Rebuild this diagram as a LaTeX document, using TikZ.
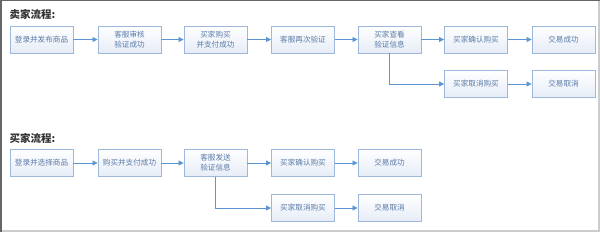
\documentclass[tikz,border=0pt]{standalone}
\usepackage{fontspec}
\newfontfamily\cjk{Noto Sans CJK SC}
\usetikzlibrary{arrows.meta}
\definecolor{boxline}{HTML}{9DB8DA}
\definecolor{boxfill}{HTML}{E6ECF7}
\definecolor{boxtext}{HTML}{5A7BA8}
\definecolor{arrowc}{HTML}{5B95D2}
\definecolor{titlec}{HTML}{333333}
\tikzset{
  stepbox/.style={draw=boxline, line width=0.9pt, top color=white, bottom color=boxfill,
    minimum width=63pt, minimum height=27pt, inner sep=1pt, align=center,
    font=\cjk\fontsize{7.6}{10}\selectfont, text=boxtext},
  flow/.style={draw=arrowc, line width=0.8pt, -{Triangle[length=5pt,width=5pt]}},
  ttl/.style={anchor=west, font=\cjk\bfseries\fontsize{10.5}{12}\selectfont, text=titlec}
}
\begin{document}
\begin{tikzpicture}[x=1pt,y=-1pt]
\useasboundingbox (0,0) rectangle (600,232);
\fill[white] (0,0) rectangle (600,232);
\draw[color=black!20, line width=2pt] (599,0) -- (599,231) -- (0,231);
\draw[color=black!60, line width=1.5pt] (0.75,232) -- (0.75,0.75) -- (600,0.75);
% seller
\node[ttl] (t1) at (6,14) {卖家流程:};
\node[stepbox] (a1) at (41.5,39.5) {登录并发布商品};
\node[stepbox] (a2) at (129.5,39.5) {客服审核\\验证成功};
\node[stepbox] (a3) at (215.5,39.5) {买家购买\\并支付成功};
\node[stepbox] (a4) at (303,39.5) {客服再次验证};
\node[stepbox] (a5) at (389.5,39.5) {买家查看\\验证信息};
\node[stepbox] (a6) at (476,39.5) {买家确认购买};
\node[stepbox] (a7) at (563.5,39.5) {交易成功};
\node[stepbox] (a8) at (476,84) {买家取消购买};
\node[stepbox] (a9) at (563.5,84) {交易取消};
\draw[flow] (a1) -- (a2);
\draw[flow] (a2) -- (a3);
\draw[flow] (a3) -- (a4);
\draw[flow] (a4) -- (a5);
\draw[flow] (a5) -- (a6);
\draw[flow] (a6) -- (a7);
\draw[flow] (a5.south) |- (a8.west);
\draw[flow] (a8) -- (a9);
% buyer
\node[ttl] (t2) at (6,138) {买家流程:};
\node[stepbox] (b1) at (41.5,163) {登录并选择商品};
\node[stepbox] (b2) at (129.5,163) {购买并支付成功};
\node[stepbox] (b3) at (215.5,163) {客服发送\\验证信息};
\node[stepbox] (b4) at (303,163) {买家确认购买};
\node[stepbox] (b5) at (389.5,163) {交易成功};
\node[stepbox] (b6) at (303,208) {买家取消购买};
\node[stepbox] (b7) at (389.5,208) {交易取消};
\draw[flow] (b1) -- (b2);
\draw[flow] (b2) -- (b3);
\draw[flow] (b3) -- (b4);
\draw[flow] (b4) -- (b5);
\draw[flow] (b3.south) |- (b6.west);
\draw[flow] (b6) -- (b7);
\end{tikzpicture}
\end{document}
